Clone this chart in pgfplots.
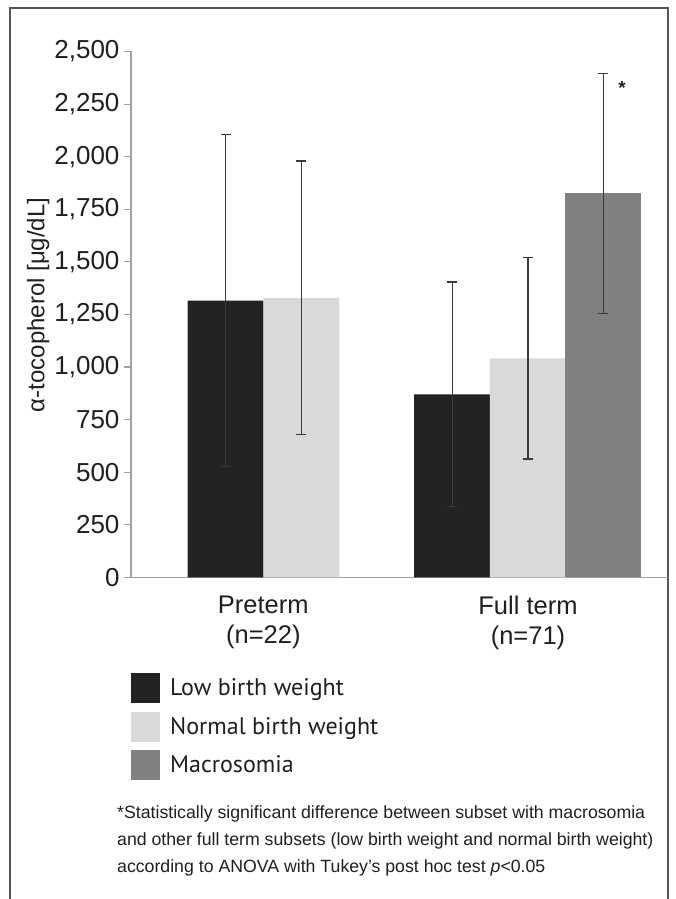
\documentclass[border=0pt]{standalone}
\usepackage{pgfplots}
\pgfplotsset{compat=1.18}
\usepackage{fontspec}
\setmainfont{Liberation Sans}
\newfontfamily\legfont{PT Sans}
\definecolor{cLow}{HTML}{232323}
\definecolor{cNorm}{HTML}{D9D9D9}
\definecolor{cMac}{HTML}{808080}
\definecolor{cAxis}{HTML}{A0A0A0}
\definecolor{cErr}{HTML}{3A3A3A}
\definecolor{cFrame}{HTML}{555555}
\begin{document}
\begin{tikzpicture}[x=1pt,y=1pt]
\useasboundingbox (0,0) rectangle (675,899);
\draw[cFrame, line width=1.6pt] (10,-1) -- (10,891) -- (668,891) -- (668,-1);
\begin{axis}[
  at={(131pt,321.7pt)}, anchor=south west,
  scale only axis, width=537pt, height=525.8pt,
  xmin=131, xmax=668, ymin=0, ymax=2500,
  axis x line*=bottom, axis y line*=left,
  axis line style={cAxis, line width=1.1pt},
  ytick={0,250,...,2500},
  /pgf/number format/.cd, 1000 sep={,}, assume math mode=true,
  /pgfplots/.cd,
  tick style={cAxis, line width=1.1pt},
  tick align=outside, major tick length=7pt,
  yticklabel style={font=\fontsize{26}{28}\selectfont, text=black!88, xshift=-1pt},
  xtick={263.3,528}, xticklabels={Preterm\\(n=22), Full term\\(n=71)},
  xticklabel style={font=\fontsize{25.5}{30}\selectfont, align=center, text=black!88, yshift=-8pt},
  x tick style={draw=none},
  extra x ticks={131}, extra x tick labels={},
  extra x tick style={tick style={cAxis, line width=1.1pt}, major tick length=6pt},
  ylabel={α-tocopherol [μg/dL]},
  every axis y label/.style={at={(axis description cs:-0.173,0.518)}, rotate=90, anchor=center, font=\fontsize{24}{26}\selectfont, text=black!88},
  clip=false,
  legend style={at={(axis description cs:0,-0.182)}, anchor=north west, draw=none, fill=none,
    font=\legfont\fontsize{24}{26}\selectfont, text=black!88, row sep=8.5pt, inner sep=0pt,
    /tikz/every odd column/.style={column sep=0pt}},
  legend cell align=left,
  legend image code/.code={\fill[#1] (0pt,-15pt) rectangle (29pt,15pt);},
  every axis plot/.append style={ybar, bar width=76, bar shift=0pt, draw=none},
  error bars/y dir=both, error bars/y explicit,
  error bars/error bar style={cErr, line width=1.3pt},
  error bars/error mark options={rotate=90, mark size=5pt, line width=1.3pt, cErr},
]
\addplot[fill=cLow] coordinates {(225.5,1315) +- (0,789) (452.2,870) +- (0,534)};
\addlegendentry{\hspace{8pt}Low birth weight}
\addplot[fill=cNorm] coordinates {(301.3,1329) +- (0,651) (527.9,1041) +- (0,479)};
\addlegendentry{\hspace{8pt}Normal birth weight}
\addplot[fill=cMac] coordinates {(603.3,1825) +- (0,572)};
\addlegendentry{\hspace{8pt}Macrosomia}
\node[font=\bfseries\fontsize{19}{19}\selectfont, text=black!85] at (axis cs:622,2328) {*};
\end{axis}
\node[anchor=north west, align=left, inner sep=0pt, font=\fontsize{17.7}{27}\selectfont, text=black!88] at (117,94)
{*Statistically significant difference between subset with macrosomia\\
and other full term subsets (low birth weight and normal birth weight)\\
according to ANOVA with Tukey's post hoc test \textit{p}<0.05};
\end{tikzpicture}
\end{document}
